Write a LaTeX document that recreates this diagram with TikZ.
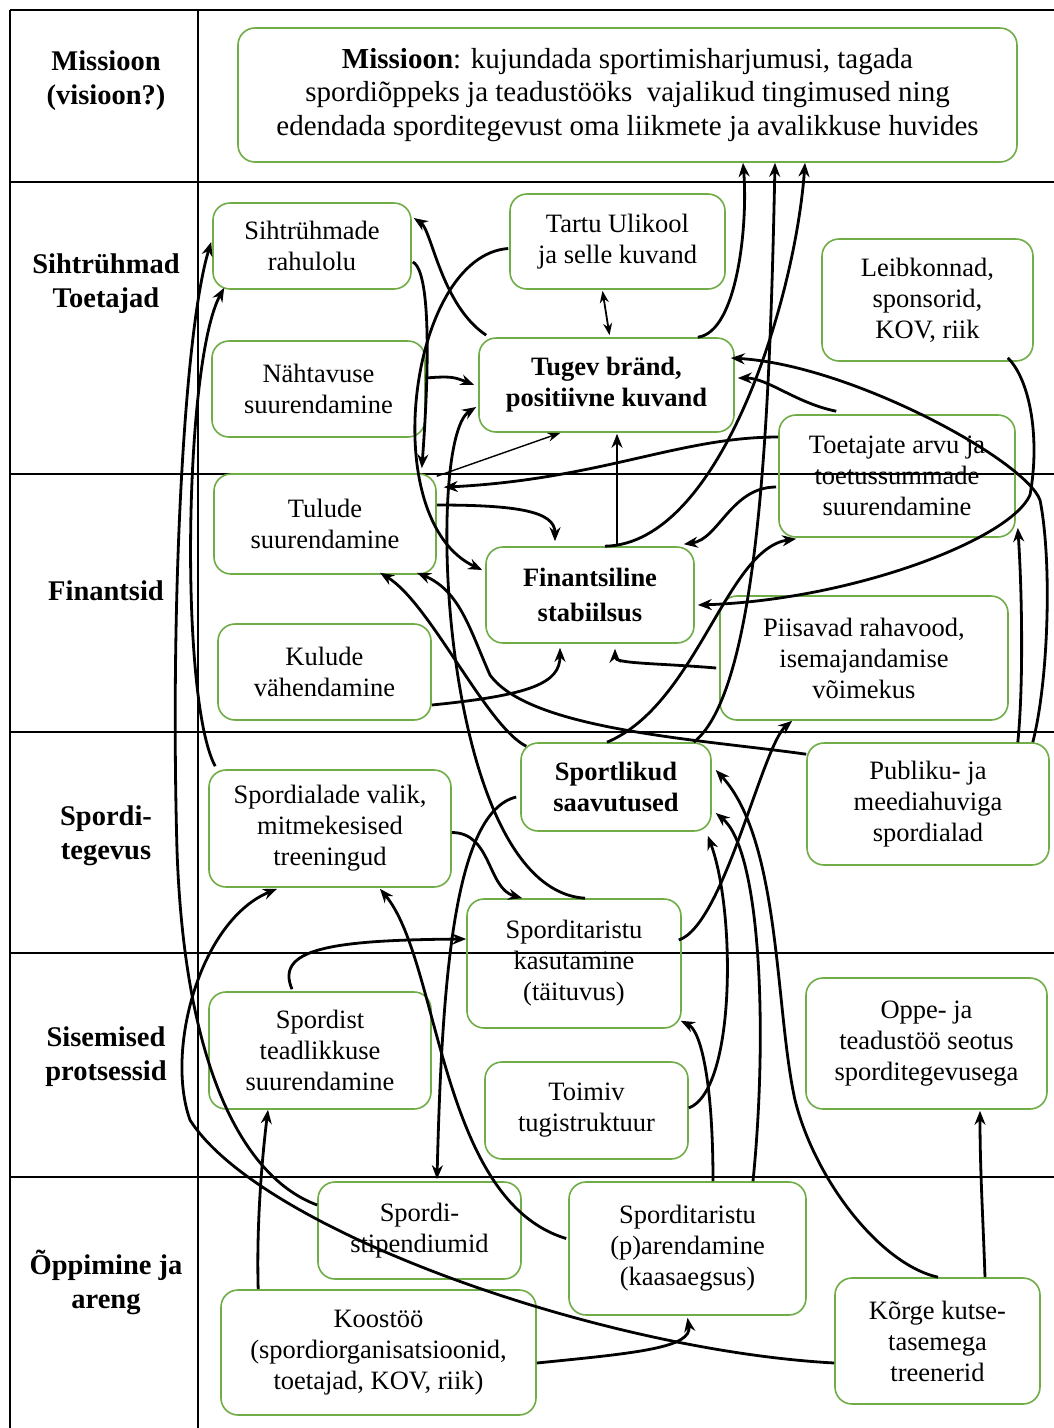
\documentclass[tikz,border=0pt]{standalone}
\usepackage{fontspec}
\setmainfont{Liberation Serif}
\usetikzlibrary{arrows.meta,calc}
\definecolor{boxgreen}{HTML}{70AD47}
\begin{document}
\begin{tikzpicture}[x=1pt,y=-1pt,
  grid/.style={line width=1.6pt,black},
  lab/.style={font=\bfseries\fontsize{28.5}{34}\selectfont,align=center,inner sep=0pt},
  box/.style={draw=boxgreen,line width=1.6pt,rounded corners=17pt,align=center,inner sep=0pt,
    font=\fontsize{26.5}{31}\selectfont},
  boldbox/.style={box,font=\bfseries\fontsize{26.5}{31}\selectfont},
  con/.style={line width=2.8pt,-{Stealth[length=14pt,width=11pt]}},
  thinarrow/.style={line width=1.4pt,-{Stealth[length=13pt,width=9pt]}},
  dbl/.style={line width=1.8pt,{Stealth[length=12pt,width=9pt]}-{Stealth[length=12pt,width=9pt]}}]
\useasboundingbox (0,0) rectangle (1054,1428);
\fill[white] (0,0) rectangle (1054,1428);

% table frame
\draw[grid] (10,10) -- (1054,10);
\foreach \yy in {182,474,732,953,1177} \draw[grid] (10,\yy) -- (1054,\yy);
\draw[grid] (10,10) -- (10,1428);
\draw[grid] (198,10) -- (198,1428);

% row headings
\node[lab] (h1) at (106,81) {Missioon\\(visioon?)};
\node[lab] (h2) at (106,284) {Sihtrühmad\\Toetajad};
\node[lab] (h3) at (106,591) {Finantsid};
\node[lab] (h4) at (106,836) {Spordi-\\tegevus};
\node[lab] (h5) at (106,1057) {Sisemised\\protsessid};
\node[lab] (h6) at (106,1282) {Õppimine ja\\areng};

% goal boxes
\node[box,minimum width=779pt,minimum height=134pt,font=\fontsize{29}{33.5}\selectfont] (mis) at (627.5,95)
  {\textbf{Missioon}: kujundada sportimisharjumusi, tagada\\spordiõppeks ja teadustööks~ vajalikud tingimused ning\\edendada sporditegevust oma liikmete ja avalikkuse huvides};
\node[box,minimum width=198pt,minimum height=86pt] (siht) at (312,246) {Sihtrühmade\\rahulolu};
\node[box,minimum width=215pt,minimum height=95pt] (tartu) at (617.5,241.5) {Tartu Ulikool\\ja selle kuvand};
\node[box,minimum width=211pt,minimum height=122pt] (leib) at (927.5,300) {Leibkonnad,\\sponsorid,\\KOV, riik};
\node[box,minimum width=213pt,minimum height=96pt] (naht) at (318.5,389) {Nähtavuse\\suurendamine};
\node[boldbox,minimum width=255pt,minimum height=94pt] (brand) at (606.5,385) {Tugev bränd,\\positiivne kuvand};
\node[box,minimum width=236pt,minimum height=122pt] (toet) at (897,476) {Toetajate arvu ja\\toetussummade\\suurendamine};
\node[box,minimum width=222pt,minimum height=100pt] (tulu) at (325,524) {Tulude\\suurendamine};
\node[boldbox,minimum width=208pt,minimum height=96pt,font=\bfseries\fontsize{26.5}{35}\selectfont] (fin) at (590,595) {Finantsiline\\stabiilsus};
\node[box,minimum width=213pt,minimum height=96pt] (kulu) at (324.5,672) {Kulude\\vähendamine};
\node[box,minimum width=288pt,minimum height=124pt] (piis) at (864,658) {Piisavad rahavood,\\isemajandamise\\võimekus};
\node[boldbox,minimum width=190pt,minimum height=88pt] (sport) at (616,787) {Sportlikud\\saavutused};
\node[box,minimum width=242pt,minimum height=122pt] (publ) at (928,804) {Publiku- ja\\meediahuviga\\spordialad};
\node[box,minimum width=242pt,minimum height=117pt] (sala) at (330,828.5) {Spordialade valik,\\mitmekesised\\treeningud};
\node[box,minimum width=214pt,minimum height=129pt] (tkas) at (574,963.5) {Sporditaristu\\kasutamine\\(täituvus)};
\node[box,minimum width=222pt,minimum height=117pt] (tead) at (320,1050.5) {Spordist\\teadlikkuse\\suurendamine};
\node[box,minimum width=203pt,minimum height=97pt] (toim) at (586.5,1110.5) {Toimiv\\tugistruktuur};
\node[box,minimum width=241pt,minimum height=131pt] (oppe) at (926.5,1043.5) {Oppe- ja\\teadustöö seotus\\sporditegevusega};
\node[box,minimum width=203pt,minimum height=97pt] (stip) at (419.5,1230.5) {Spordi-\\stipendiumid};
\node[box,minimum width=237pt,minimum height=133pt] (tare) at (687.5,1248.5) {Sporditaristu\\(p)arendamine\\(kaasaegsus)};
\node[box,minimum width=315pt,minimum height=125pt] (koos) at (378.5,1352.5) {Koostöö\\(spordiorganisatsioonid,\\toetajad, KOV, riik)};
\node[box,minimum width=205pt,minimum height=126pt] (korg) at (937.5,1341) {Kõrge kutse-\\tasemega\\treenerid};

% links between goals
\draw[con] ($(brand.north west)+(8,-2)$) .. controls +(-45,-30) and +(18,12) .. ($(siht.east)+(2,-28)$);
\draw[con] ($(siht.east)+(1,16)$) .. controls +(20,10) and +(6,-80) .. ($(tulu.north east)+(-15,-5)$);
\draw[con] ($(tartu.west)+(-1,7)$) .. controls +(-99,7) and +(-107,-50) .. ($(fin.west)+(-3,-25)$);
\draw[con] ($(tkas.north)+(11,0)$) .. controls +(-145,-9) and +(-52,33) .. ($(brand.west)+(-2,22)$);
\draw[thinarrow] ($(tulu.north east)+(0,3)$) -- ($(brand.south)+(-46,0)$);
\draw[con] ($(naht.east)+(0,-11)$) .. controls +(25,-2) and +(-20,-8) .. ($(brand.west)+(-4,0)$);
\draw[dbl] ($(tartu.south)+(-15,1)$) -- ($(brand.north)+(3,-2)$);
\draw[con] ($(brand.north east)+(-37,0)$) .. controls +(40,-5) and +(5,60) .. ($(mis.south)+(115.5,0)$);
\draw[con] ($(sport.north east)+(-18,0)$) .. controls +(67,-53) and +(-5,238) .. ($(mis.south)+(147.5,0)$);
\draw[con] ($(fin.north)+(15,0)$) .. controls +(115,-2) and +(-10,138) .. ($(mis.south)+(177.5,0)$);
\draw[con] ($(toet.west)+(0,-39)$) .. controls +(-99,0) and +(157,-8) .. ($(tulu.north east)+(7,14)$);
\draw[con] ($(toet.west)+(-2,11)$) .. controls +(-45,0) and +(35,-5) .. ($(fin.north east)+(-11,-2)$);
\draw[con] ($(toet.north west)+(58,-3)$) .. controls +(-40,-8) and +(30,0) .. ($(brand.east)+(3,-7)$);
\draw[con] ($(publ.north east)+(-17,0)$) .. controls +(16,-63) and +(12,60) .. (1040,500)
  .. controls +(-15,-40) and +(120,7) .. ($(brand.east)+(-4,-27)$);
\draw[con] ($(leib.south east)+(-26,-4)$) .. controls +(23,23) and +(10,-55) .. (1030,495)
  .. controls +(-20,45) and +(153,-5) .. ($(fin.east)+(3,10)$);
\draw[con] ($(publ.north east)+(-32,0)$) .. controls +(6,-60) and +(4,60) .. ($(toet.south east)+(2,-10)$);
\draw[con] ($(fin.north)+(27,0)$) -- ($(brand.south)+(10.5,1)$);
\draw[con] ($(tulu.east)+(0,-19)$) .. controls +(80,0) and +(0,-30) .. ($(fin.north)+(-35,-5)$);
\draw[con] ($(kulu.east)+(0,33)$) .. controls +(100,-10) and +(0,35) .. ($(fin.south)+(-30,4)$);
\draw[con] ($(piis.west)+(-3,10)$) .. controls +(-60,-5) and +(0,15) .. ($(fin.south)+(25,5)$);
\draw[con] ($(sport.north west)+(6,4)$) .. controls +(-40,-20) and +(50,30) .. ($(tulu.south)+(55,-2)$);
\draw[con] ($(publ.north west)+(0,12)$) .. controls +(-107,-15) and +(40,55) .. (490,675)
  .. controls +(-20,-45) and +(43,18) .. ($(tulu.south)+(92,-2)$);
\draw[con] ($(sport.north)+(-9,0)$) .. controls +(90,-38) and +(-70,10) .. ($(toet.south west)+(18,1)$);
\draw[con] ($(sport.west)+(-4,10)$) .. controls +(-62,15) and +(5,-200) .. ($(stip.north)+(17.5,-2)$);
\draw[con] ($(sala.east)+(0,4)$) .. controls +(40,0) and +(-35,-10) .. ($(tkas.north west)+(56,0)$);
\draw[con] ($(tead.north)+(-28,-2)$) .. controls +(-17,-40) and +(-137,1) .. ($(tkas.west)+(0,-24.5)$);
\draw[con] ($(koos.north west)+(38,0)$) .. controls +(-2,-70) and +(-5,40) .. ($(tead.south)+(-52,0)$);
\draw[con] ($(korg.west)+(0,22)$) .. controls +(-235,-13) and +(70,110) .. (190,1120)
  .. controls +(-25,-70) and +(-77,32) .. ($(sala.south)+(-53,1)$);
\draw[con] ($(stip.west)+(0,-25.5)$) .. controls +(-68,-25) and +(8,230) .. (177,850)
  .. controls +(-7,-250) and +(-27,88) .. ($(siht.west)+(-1,-4)$);
\draw[con] ($(sala.north west)+(7,-3)$) .. controls +(-36,-67) and +(-40,73) .. ($(siht.south west)+(12,-2)$);
\draw[con] ($(tare.west)+(-2,-10)$) .. controls +(-127,-38) and +(60,72) .. ($(sala.south)+(50,1)$);
\draw[con] ($(tare.north)+(25.5,0)$) .. controls +(0,-100) and +(20,10) .. ($(tkas.south east)+(-1,-8)$);
\draw[con] ($(toim.east)+(0,-2.5)$) .. controls +(47,-18) and +(28,75) .. ($(sport.south east)+(-4,4)$);
\draw[con] ($(tare.north)+(65.5,0)$) .. controls +(15,-150) and +(45,37) .. ($(sport.east)+(4,26)$);
\draw[con] ($(korg.north)+(0.5,0)$) .. controls +(-58,-13) and +(20,80) .. (795,1100)
  .. controls +(-20,-90) and +(65,70) .. ($(sport.east)+(4,-17)$);
\draw[con] ($(korg.north)+(47.5,0)$) .. controls +(-2,-60) and +(0,60) .. ($(oppe.south)+(53.5,1)$);
\draw[con] ($(tkas.east)+(-3,-23.5)$) .. controls +(45,-15) and +(-30,25) .. ($(piis.south west)+(73,0)$);
\draw[con] ($(koos.east)+(0,10.5)$) .. controls +(100,-10) and +(5,30) .. ($(tare.south)+(0,2)$);
\end{tikzpicture}
\end{document}
